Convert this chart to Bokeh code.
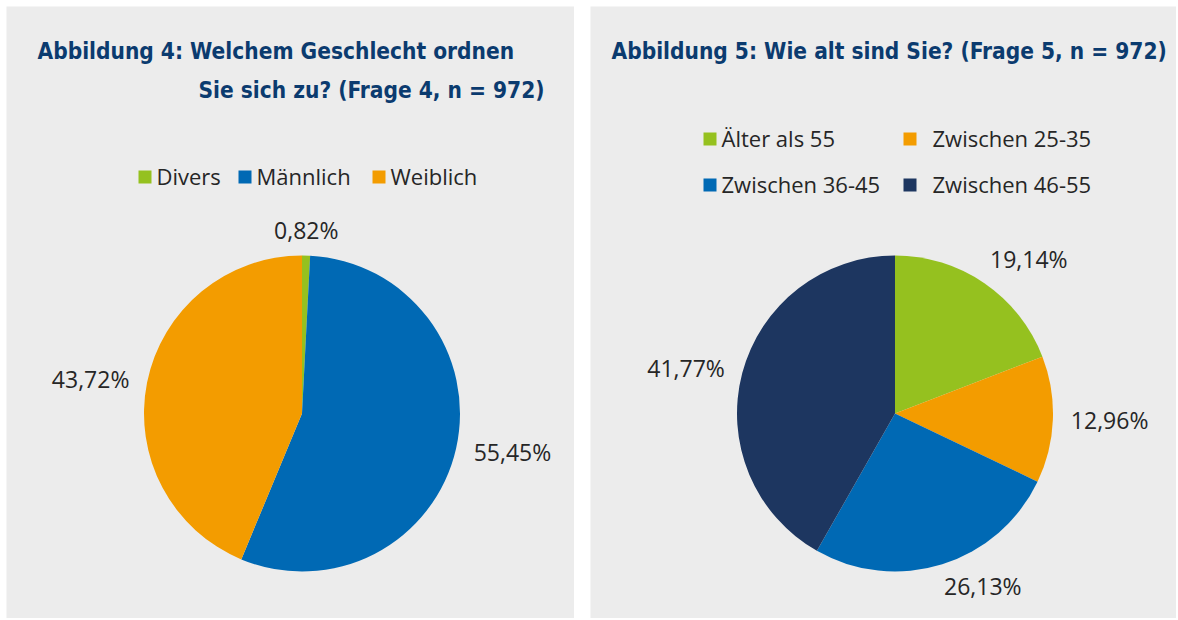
import numpy as np
from bokeh.plotting import figure
from bokeh.layouts import row
from bokeh.models import Range1d, ColumnDataSource
from bokeh.embed import file_html
from bokeh.resources import INLINE
from bokeh.core.properties import value

# ---------------- data ----------------
gender_title = ["Abbildung 4: Welchem Geschlecht ordnen", "Sie sich zu? (Frage 4, n = 972)"]
gender_cats = ["Divers", "Männlich", "Weiblich"]
gender_vals = [0.82, 55.45, 43.72]
gender_colors = ["#95c11f", "#0069b4", "#f39c00"]

age_title = ["Abbildung 5: Wie alt sind Sie? (Frage 5, n = 972)"]
age_cats = ["Älter als 55", "Zwischen 25-35", "Zwischen 36-45", "Zwischen 46-55"]
age_vals = [19.14, 12.96, 26.13, 41.77]
age_colors = ["#95c11f", "#f39c00", "#0069b4", "#1d3660"]

# ---------------- style ----------------
BG = "#ececec"
TITLE_COLOR = "#0b3b6f"
TEXT_COLOR = "#262626"
TITLE_FONT = "DejaVu Sans Condensed"
BODY_FONT = "Open Sans"
TOP, BOTTOM = 6, 618


def Y(s):
    # screen y (page pixels) -> data y
    return 620 - s


def make_fig(x0, x1, margin):
    p = figure(width=x1 - x0, height=BOTTOM - TOP, x_range=Range1d(x0, x1),
               y_range=Range1d(Y(BOTTOM), Y(TOP)),
               output_backend="svg", toolbar_location=None, min_border=0,
               x_axis_type=None, y_axis_type=None)
    p.background_fill_color = BG
    p.border_fill_color = BG
    p.outline_line_color = None
    p.grid.visible = False
    p.margin = margin
    return p


def fmt(v):
    return f"{v:.2f}".replace(".", ",") + "%"


def draw_pie(p, cx, cy, r, vals, colors):
    v = np.array(vals, dtype=float)
    fr = v / v.sum()
    cum = np.concatenate([[0.0], np.cumsum(fr)])
    src = ColumnDataSource(dict(
        x=[cx] * len(v), y=[Y(cy)] * len(v),
        start=list(np.pi / 2 - cum[:-1] * 2 * np.pi),
        end=list(np.pi / 2 - cum[1:] * 2 * np.pi),
        color=colors))
    p.wedge(x="x", y="y", radius=r, start_angle="start", end_angle="end",
            direction="clock", fill_color="color", line_color=None, source=src)
    mid = (cum[:-1] + cum[1:]) / 2 * 2 * np.pi
    gap = {"middle": 18, "bottom": 10, "top": 6}
    for val, a in zip(vals, mid):
        s, c = np.sin(a), np.cos(a)
        align = "left" if s > 0.15 else ("right" if s < -0.15 else "center")
        base = "bottom" if c > 0.5 else ("top" if c < -0.5 else "middle")
        rr = r + gap[base]
        lx = cx + rr * s
        ly = Y(cy) + rr * c
        p.text(x=[lx], y=[ly], text=[fmt(val)], text_align=align, text_baseline=base,
               text_font=value(BODY_FONT), text_font_size="23px", text_color=TEXT_COLOR)


def draw_legend(p, cats, colors, sq_xs, txt_xs, mids):
    for cat, col, sx, tx, m in zip(cats, colors, sq_xs, txt_xs, mids):
        p.rect(x=[sx + 6.5], y=[Y(m)], width=13, height=13, fill_color=col, line_color=None)
        p.text(x=[tx], y=[Y(m - 1.5)], text=[cat], text_align="left", text_baseline="middle",
               text_font=value(BODY_FONT), text_font_size="22px", text_color=TEXT_COLOR)


def draw_title(p, lines, xs, mids):
    for t, x, m in zip(lines, xs, mids):
        p.text(x=[x], y=[Y(m)], text=[t], text_align="left", text_baseline="middle",
               text_font=value(TITLE_FONT), text_font_size="22.5px", text_font_style="bold",
               text_color=TITLE_COLOR)


# ---------------- panel 1 ----------------
p1 = make_fig(6, 574, (6, 0, 0, 6))
draw_title(p1, gender_title, [37, 198], [50, 89])
draw_legend(p1, gender_cats, gender_colors, [138, 238, 372], [156, 256, 390], [176.5] * 3)
draw_pie(p1, 301.5, 413, 158, gender_vals, gender_colors)

# ---------------- panel 2 ----------------
p2 = make_fig(590, 1176, (6, 0, 0, 16))
draw_title(p2, age_title, [611], [50])
draw_legend(p2, age_cats, age_colors, [703, 903, 703, 903], [721, 932, 721, 932],
            [138.5, 138.5, 184.5, 184.5])
draw_pie(p2, 894.5, 413, 158, age_vals, age_colors)

layout = row(p1, p2)
open("out.html", "w").write(file_html(layout, INLINE))
